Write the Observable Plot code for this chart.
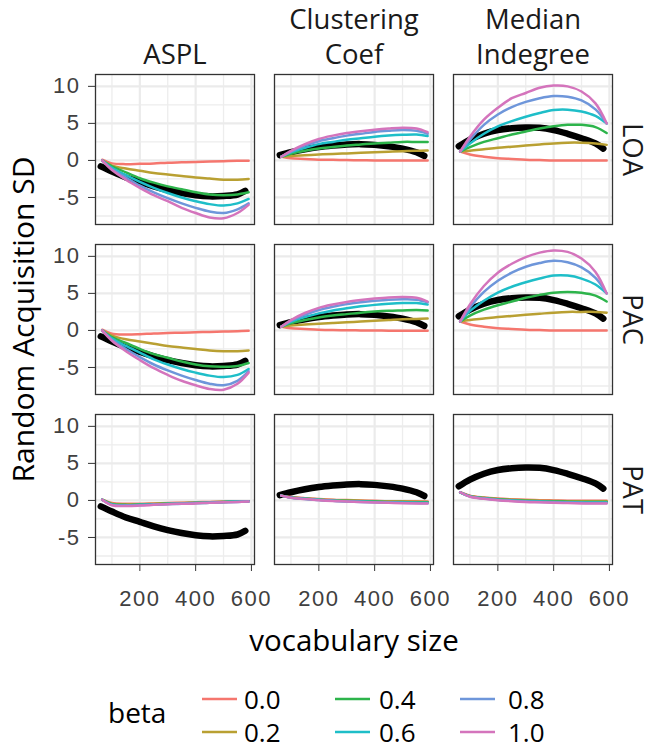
<!DOCTYPE html>
<html><head><meta charset="utf-8">
<script src="https://cdn.jsdelivr.net/npm/d3@7"></script>
<script src="https://cdn.jsdelivr.net/npm/@observablehq/plot@0.6"></script>
<style>
body{margin:0;background:#fff;}
#wrap{position:relative;width:650px;height:746px;overflow:hidden;}
#legend{position:absolute;left:0;top:670px;}
text.ticklab{font-size:22px !important;font-family:'Liberation Sans',Arial,sans-serif !important;letter-spacing:1.5px;fill:#404040 !important;}
</style></head><body><div id="wrap"></div>
<script>
// ---- categories / labels ----
const measures = ["ASPL", "Clustering Coef", "Median Indegree"];
const measureLabels = ["ASPL", "Clustering\nCoef", "Median\nIndegree"];
const models = ["LOA", "PAC", "PAT"];
const betas = ["0.0", "0.2", "0.4", "0.6", "0.8", "1.0"];
const betaColors = ["#F5766E", "#B9A032", "#2DB44B", "#1EBEC8", "#6E96DA", "#D474BC"];
const yTicks = [-5, 0, 5, 10];
const yMinor = [-7.5, -2.5, 2.5, 7.5];
const xTicks = [200, 400, 600];
const xMinor = [100, 300, 500];

// ---- x positions (vocabulary size) ----
const xs = [65, 100, 150, 200, 250, 300, 350, 400, 450, 500, 550, 590];
const obsX = [60, 100, 150, 200, 250, 300, 350, 400, 450, 500, 550, 578];

// ---- observed (black) series ----
const obsAspl = [-0.8, -1.5, -2.3, -2.9, -3.5, -4.0, -4.4, -4.7, -4.85, -4.8, -4.6, -4.1];
const obsCc   = [0.7, 1.1, 1.5, 1.8, 2.0, 2.15, 2.2, 2.1, 1.9, 1.6, 1.1, 0.6];
const obsMi   = [1.9, 2.8, 3.6, 4.1, 4.35, 4.45, 4.4, 4.1, 3.6, 3.0, 2.3, 1.6];

// ---- model series: one array per beta (0.0 .. 1.0) ----
const loaAspl = [
  [0.1, -0.4, -0.5, -0.45, -0.4, -0.3, -0.25, -0.2, -0.15, -0.1, -0.05, -0.05],
  [0, -0.7, -1.1, -1.4, -1.7, -1.9, -2.1, -2.3, -2.45, -2.6, -2.6, -2.5],
  [0, -0.8, -1.6, -2.4, -3.0, -3.5, -3.9, -4.3, -4.6, -4.7, -4.6, -4.3],
  [0, -1.0, -2.0, -2.9, -3.7, -4.4, -5.0, -5.5, -5.9, -6.1, -5.8, -5.2],
  [0, -1.2, -2.3, -3.4, -4.3, -5.1, -5.8, -6.4, -6.9, -7.1, -6.6, -5.8],
  [0, -1.3, -2.6, -3.7, -4.7, -5.5, -6.4, -7.1, -7.7, -7.8, -7.1, -6.0]
];
const loaCc = [
  [0.5, 0.3, 0.2, 0.1, 0.08, 0.05, 0.03, 0.0, 0.0, 0.0, 0.0, 0.0],
  [0.5, 0.6, 0.7, 0.8, 0.88, 0.95, 1.02, 1.1, 1.17, 1.25, 1.3, 1.35],
  [0.5, 0.9, 1.3, 1.6, 1.8, 2.0, 2.15, 2.3, 2.4, 2.5, 2.5, 2.5],
  [0.5, 1.1, 1.7, 2.2, 2.5, 2.8, 3.0, 3.2, 3.35, 3.45, 3.5, 3.3],
  [0.5, 1.2, 2.0, 2.6, 3.0, 3.35, 3.6, 3.85, 4.0, 4.1, 4.0, 3.6],
  [0.5, 1.3, 2.2, 2.9, 3.35, 3.7, 3.95, 4.15, 4.3, 4.4, 4.3, 3.8]
];
const loaMi = [
  [1.2, 0.8, 0.5, 0.3, 0.2, 0.1, 0.05, 0.0, 0.0, 0.0, 0.0, 0.0],
  [1.2, 1.3, 1.5, 1.7, 1.85, 2.0, 2.15, 2.3, 2.4, 2.4, 2.3, 2.1],
  [1.2, 1.8, 2.5, 3.0, 3.5, 3.9, 4.3, 4.6, 4.8, 4.8, 4.5, 3.7],
  [1.2, 2.3, 3.6, 4.6, 5.3, 5.9, 6.4, 6.8, 6.85, 6.6, 6.0, 5.0],
  [1.2, 2.8, 4.8, 6.2, 7.2, 7.9, 8.4, 8.7, 8.6, 8.1, 6.9, 5.0],
  [1.2, 3.2, 5.5, 7.1, 8.4, 9.1, 9.8, 10.1, 10.0, 9.3, 7.7, 5.0]
];
const pacAspl = [
  [0.1, -0.45, -0.55, -0.5, -0.4, -0.35, -0.3, -0.25, -0.2, -0.15, -0.1, -0.05],
  [0, -0.7, -1.2, -1.5, -1.8, -2.1, -2.3, -2.5, -2.7, -2.8, -2.8, -2.7],
  [0, -0.9, -1.7, -2.5, -3.2, -3.7, -4.2, -4.6, -4.85, -4.9, -4.8, -4.4],
  [0, -1.1, -2.1, -3.0, -3.9, -4.6, -5.2, -5.7, -6.1, -6.3, -6.0, -5.2],
  [0, -1.3, -2.5, -3.6, -4.6, -5.4, -6.1, -6.7, -7.2, -7.4, -6.8, -5.5],
  [0, -1.4, -2.8, -4.0, -5.1, -6.0, -6.8, -7.4, -7.9, -8.0, -7.2, -5.7]
];
const pacCc = [
  [0.5, 0.3, 0.2, 0.1, 0.05, 0.03, 0.0, 0.0, -0.05, -0.05, -0.05, -0.05],
  [0.5, 0.65, 0.8, 0.9, 1.0, 1.1, 1.2, 1.3, 1.4, 1.5, 1.55, 1.6],
  [0.5, 0.95, 1.4, 1.75, 2.0, 2.2, 2.4, 2.55, 2.65, 2.7, 2.75, 2.7],
  [0.5, 1.15, 1.8, 2.3, 2.7, 3.0, 3.25, 3.45, 3.6, 3.7, 3.7, 3.5],
  [0.5, 1.3, 2.1, 2.75, 3.2, 3.55, 3.8, 4.0, 4.15, 4.2, 4.15, 3.8],
  [0.5, 1.4, 2.35, 3.05, 3.5, 3.85, 4.1, 4.3, 4.45, 4.5, 4.4, 3.9]
];
const pacMi = [
  [1.2, 0.8, 0.5, 0.3, 0.2, 0.1, 0.05, 0.0, 0.0, 0.0, 0.0, 0.0],
  [1.2, 1.4, 1.6, 1.8, 1.95, 2.1, 2.25, 2.4, 2.5, 2.5, 2.5, 2.4],
  [1.2, 2.0, 2.8, 3.4, 3.9, 4.4, 4.8, 5.1, 5.2, 5.1, 4.7, 3.9],
  [1.2, 2.6, 4.0, 5.1, 5.9, 6.5, 7.0, 7.4, 7.4, 7.0, 6.2, 5.0],
  [1.2, 3.1, 5.2, 6.7, 7.8, 8.6, 9.1, 9.4, 9.2, 8.5, 7.1, 5.0],
  [1.2, 3.5, 6.0, 7.8, 9.0, 9.9, 10.5, 10.8, 10.6, 9.7, 7.9, 5.0]
];
const patAspl = [
  [0.1, -0.35, -0.45, -0.45, -0.4, -0.35, -0.3, -0.25, -0.2, -0.15, -0.1, -0.1],
  [0.1, -0.45, -0.55, -0.5, -0.45, -0.4, -0.35, -0.3, -0.25, -0.2, -0.15, -0.1],
  [0.1, -0.5, -0.6, -0.55, -0.5, -0.45, -0.4, -0.3, -0.25, -0.2, -0.15, -0.1],
  [0.1, -0.55, -0.65, -0.6, -0.55, -0.45, -0.4, -0.35, -0.3, -0.2, -0.15, -0.12],
  [0.1, -0.6, -0.7, -0.65, -0.55, -0.5, -0.45, -0.35, -0.3, -0.25, -0.2, -0.15],
  [0.1, -0.65, -0.75, -0.7, -0.6, -0.5, -0.45, -0.4, -0.3, -0.25, -0.2, -0.15]
];
const patCc = [
  [0.65, 0.45, 0.3, 0.2, 0.1, 0.05, 0.0, -0.05, -0.1, -0.1, -0.12, -0.15],
  [0.65, 0.42, 0.27, 0.15, 0.05, 0.0, -0.05, -0.1, -0.15, -0.15, -0.18, -0.2],
  [0.65, 0.4, 0.25, 0.1, 0.0, -0.05, -0.1, -0.15, -0.2, -0.22, -0.25, -0.25],
  [0.65, 0.38, 0.22, 0.08, -0.03, -0.1, -0.15, -0.2, -0.25, -0.28, -0.3, -0.32],
  [0.65, 0.36, 0.2, 0.05, -0.06, -0.13, -0.2, -0.25, -0.3, -0.33, -0.36, -0.38],
  [0.65, 0.35, 0.18, 0.03, -0.08, -0.15, -0.22, -0.28, -0.33, -0.37, -0.4, -0.42]
];
const patMi = [
  [1.1, 0.65, 0.4, 0.25, 0.15, 0.08, 0.03, 0.0, -0.03, -0.05, -0.05, -0.05],
  [1.1, 0.6, 0.35, 0.2, 0.1, 0.02, -0.03, -0.07, -0.1, -0.12, -0.12, -0.12],
  [1.1, 0.58, 0.32, 0.15, 0.04, -0.04, -0.1, -0.14, -0.17, -0.2, -0.2, -0.2],
  [1.1, 0.55, 0.28, 0.1, 0.0, -0.1, -0.15, -0.2, -0.24, -0.27, -0.28, -0.28],
  [1.1, 0.52, 0.25, 0.06, -0.05, -0.15, -0.2, -0.26, -0.3, -0.33, -0.35, -0.35],
  [1.1, 0.5, 0.22, 0.03, -0.1, -0.2, -0.26, -0.32, -0.36, -0.4, -0.42, -0.42]
];

// ---- build tables ----
const modelSeries = {
  LOA: [loaAspl, loaCc, loaMi],
  PAC: [pacAspl, pacCc, pacMi],
  PAT: [patAspl, patCc, patMi]
};
const obsSeries = [obsAspl, obsCc, obsMi];

const lines = [];
for (const m of models) {
  modelSeries[m].forEach((perBeta, k) => {
    perBeta.forEach((vals, b) => {
      vals.forEach((v, i) => lines.push({model: m, measure: measures[k], beta: betas[b], x: xs[i], y: v}));
    });
  });
}
const obs = [];
for (const m of models) {
  obsSeries.forEach((vals, k) => {
    vals.forEach((v, i) => obs.push({model: m, measure: measures[k], x: obsX[i], y: v}));
  });
}
const topStrips = measures.map((d, i) => ({measure: d, model: models[0], label: measureLabels[i]}));
const rightStrips = models.map(d => ({measure: measures[2], model: d, label: d}));

const titleFont = "'Open Sans', 'Noto Sans', sans-serif";
const tickFont = "'Liberation Sans', Arial, sans-serif";

const chart = Plot.plot({
  width: 650,
  height: 670,
  marginLeft: 94.5,
  marginRight: 38.5,
  marginTop: 73,
  marginBottom: 106,
  style: {background: "#fff", fontFamily: tickFont, fontSize: "22px"},
  x: {domain: [41, 611]},
  y: {domain: [-8.65, 11.6]},
  fx: {domain: measures, paddingInner: 0.112, paddingOuter: 0, axis: null},
  fy: {domain: models, paddingInner: 0.12, paddingOuter: 0, axis: null},
  color: {domain: betas, range: betaColors},
  marks: [
    Plot.gridX(xMinor, {stroke: "#EDEDED", strokeOpacity: 1, strokeWidth: 1.3}),
    Plot.gridY(yMinor, {stroke: "#EDEDED", strokeOpacity: 1, strokeWidth: 1.3}),
    Plot.gridX(xTicks, {stroke: "#EBEBEB", strokeOpacity: 1, strokeWidth: 2.2}),
    Plot.gridY(yTicks, {stroke: "#EBEBEB", strokeOpacity: 1, strokeWidth: 2.2}),
    Plot.line(obs, {fx: "measure", fy: "model", x: "x", y: "y", z: "measure", stroke: "#000", strokeWidth: 6.5, curve: "catmull-rom"}),
    Plot.line(lines, {fx: "measure", fy: "model", x: "x", y: "y", z: "beta", stroke: "beta", strokeWidth: 2.5, curve: "catmull-rom"}),
    Plot.frame({stroke: "#333333", strokeWidth: 1.3}),
    Plot.axisY(yTicks, {label: null, tickSize: 7, tickPadding: 8, stroke: "#333333", fill: "#404040", fontSize: 22,
      tickFormat: d => (d < 0 ? "-" + Math.abs(d) : String(d))}),
    Plot.axisX(xTicks, {label: null, tickSize: 7, tickPadding: 19, stroke: "#333333", fill: "#404040", fontSize: 22}),
    Plot.text(topStrips, {fx: "measure", fy: "model", text: "label", frameAnchor: "top", dy: -11, lineAnchor: "bottom",
      lineHeight: 1.24, fontSize: 27.5, fontFamily: titleFont, fill: "#1A1A1A"}),
    Plot.text(rightStrips, {fx: "measure", fy: "model", text: "label", frameAnchor: "right", textAnchor: "middle", lineAnchor: "middle",
      dx: 19, rotate: 90, fontSize: 27.5, fontFamily: titleFont, fill: "#1A1A1A"}),
    Plot.text([{measure: measures[0], model: models[1], label: "Random Acquisition SD"}], {fx: "measure", fy: "model", text: "label",
      frameAnchor: "left", textAnchor: "middle", lineAnchor: "middle", dx: -71, rotate: -90, fontSize: 30, fontFamily: titleFont, fill: "#000"}),
    Plot.text([{measure: measures[1], model: models[2], label: "vocabulary size"}], {fx: "measure", fy: "model", text: "label",
      frameAnchor: "bottom", dy: 86, lineAnchor: "bottom", fontSize: 29.5, fontFamily: titleFont, fill: "#000"})
  ]
});
document.getElementById("wrap").appendChild(chart);
// style the numeric tick labels (axis text)
const tickStrings = new Set([...yTicks.map(d => (d < 0 ? "-" + Math.abs(d) : String(d))), ...xTicks.map(String)]);
d3.select(chart).selectAll("text").each(function () {
  if (tickStrings.has(this.textContent.trim())) {
    d3.select(this).classed("ticklab", true).attr("font-size", 22).attr("font-family", tickFont)
      .style("font-size", "22px").style("font-family", tickFont);
  }
});

// ---- legend (below the chart) ----
const leg = d3.select("#wrap").append("svg").attr("id", "legend").attr("width", 650).attr("height", 76)
  .style("font-family", titleFont);
leg.append("text").attr("x", 108).attr("y", 53).attr("font-size", 28).attr("fill", "#000").text("beta");
const legCols = [[202, 244], [335, 379], [460, 508]];
betas.forEach((b, i) => {
  const c = Math.floor(i / 2), r = i % 2;
  const ly = r === 0 ? 29 : 62;
  leg.append("line").attr("x1", legCols[c][0]).attr("x2", legCols[c][0] + 35).attr("y1", ly).attr("y2", ly)
    .attr("stroke", betaColors[i]).attr("stroke-width", 2.5);
  leg.append("text").attr("x", legCols[c][1]).attr("y", ly + 10).attr("font-size", 26).attr("fill", "#000").text(b);
});
</script>
</body></html>
